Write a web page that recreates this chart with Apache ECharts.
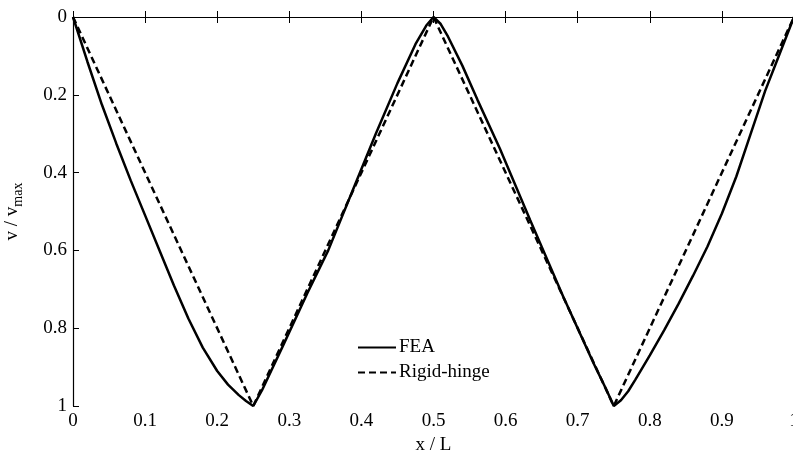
<!DOCTYPE html>
<html>
<head>
<meta charset="utf-8">
<script src="https://cdn.jsdelivr.net/npm/echarts@6/dist/echarts.min.js"></script>
<style>
html, body { margin: 0; padding: 0; background: #fff; }
#main { width: 793px; height: 454px; }
</style>
</head>
<body>
<div id="main"></div>
<script>
// FEA deflection
var feaX = [0, 0.02, 0.04, 0.06, 0.08, 0.10, 0.12, 0.14, 0.16, 0.18, 0.20, 0.215, 0.23, 0.24, 0.25,
            0.262, 0.29, 0.325, 0.354, 0.387, 0.42, 0.45, 0.475, 0.49, 0.5,
            0.51, 0.52, 0.54, 0.561, 0.592, 0.634, 0.68, 0.722, 0.739, 0.75,
            0.76, 0.77, 0.78, 0.80, 0.82, 0.84, 0.86, 0.88, 0.90, 0.92, 0.94, 0.96, 0.98, 1];
var feaV = [0, 0.115, 0.225, 0.325, 0.42, 0.51, 0.60, 0.69, 0.775, 0.85, 0.91, 0.945, 0.972, 0.987, 1,
            0.96, 0.85, 0.71, 0.6, 0.45, 0.3, 0.17, 0.07, 0.022, 0,
            0.018, 0.05, 0.125, 0.213, 0.338, 0.522, 0.719, 0.89, 0.955, 1,
            0.985, 0.962, 0.932, 0.87, 0.805, 0.737, 0.665, 0.59, 0.505, 0.41, 0.30, 0.19, 0.095, 0];

// rigid-hinge model
var rigidX = [0, 0.25, 0.5, 0.75, 1];
var rigidV = [0, 1, 0, 1, 0];

var xTicks = 0.1;
var yTicks = 0.2;

function zip(a, b) {
    var out = [];
    for (var i = 0; i < a.length; i++) {
        out.push([a[i], b[i]]);
    }
    return out;
}

var font = 'Liberation Serif';
var chart = echarts.init(document.getElementById('main'));

var option = {
    animation: false,
    backgroundColor: '#fff',
    grid: { left: 73, top: 17, width: 721, height: 389, containLabel: false, outerBoundsMode: 'none' },
    legend: {
        orient: 'vertical',
        left: 357,
        top: 338,
        padding: 0,
        itemWidth: 38,
        itemHeight: 14,
        itemGap: 6,
        itemStyle: { opacity: 0 },
        textStyle: { fontFamily: font, fontSize: 19, color: '#000', padding: [0, 0, 0, -2] },
        data: ['FEA', 'Rigid-hinge']
    },
    xAxis: [{
        type: 'value',
        min: 0, max: 1, interval: xTicks,
        name: 'x / L',
        nameLocation: 'middle',
        nameGap: 29,
        nameTextStyle: { fontFamily: font, fontSize: 19, color: '#000' },
        axisLine: { lineStyle: { color: '#000', width: 1.2 } },
        axisTick: { inside: true, length: 6, lineStyle: { color: '#000' } },
        axisLabel: { fontFamily: font, fontSize: 19, color: '#000', margin: 6 },
        splitLine: { show: false }
    }, {
        type: 'value',
        position: 'top',
        min: 0, max: 1, interval: xTicks,
        axisLine: { show: true, lineStyle: { color: '#000', width: 1.2 } },
        axisTick: { inside: true, length: 6, lineStyle: { color: '#000' } },
        axisLabel: { show: false },
        splitLine: { show: false }
    }],
    yAxis: {
        type: 'value',
        inverse: true,
        min: 0, max: 1, interval: yTicks,
        name: '{a|v / v}{b|max}',
        nameLocation: 'middle',
        nameRotate: 90,
        nameGap: 48,
        nameTextStyle: {
            rich: {
                a: { fontFamily: font, fontSize: 19, color: '#000', lineHeight: 20 },
                b: { fontFamily: font, fontSize: 14, color: '#000', padding: [12, 0, 0, 0] }
            }
        },
        axisLine: { show: true, lineStyle: { color: '#000', width: 1.2 } },
        axisTick: { show: true, inside: true, length: 6, lineStyle: { color: '#000' } },
        axisLabel: { fontFamily: font, fontSize: 19, color: '#000', margin: 6 },
        splitLine: { show: false }
    },
    series: [{
        name: 'FEA',
        type: 'line',
        symbol: 'none',
        data: zip(feaX, feaV),
        lineStyle: { color: '#000', width: 2.5 },
        itemStyle: { color: '#000' }
    }, {
        name: 'Rigid-hinge',
        type: 'line',
        symbol: 'none',
        data: zip(rigidX, rigidV),
        lineStyle: { color: '#000', width: 2.5, type: [7, 4] },
        itemStyle: { color: '#000' }
    }]
};

chart.setOption(option);
</script>
</body>
</html>
